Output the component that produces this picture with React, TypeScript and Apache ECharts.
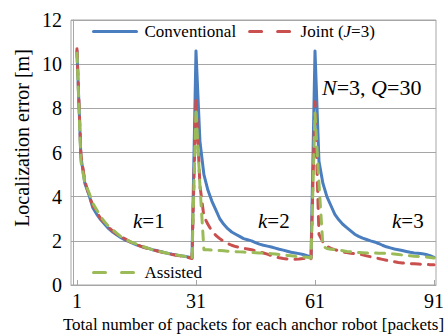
import React, { useEffect, useRef } from "react";
import * as echarts from "echarts";

// Localization error [m] for packets 1..91
const conventional = [
  10.6, 5.8, 4.6, 4.1, 3.5, 3.2, 2.95, 2.75, 2.55, 2.4, 2.27, 2.15, 2.05, 1.98, 1.9, 1.82, 1.76, 1.7, 1.66, 1.6, 1.56, 1.52, 1.47, 1.43, 1.39, 1.36, 1.33, 1.3, 1.27, 1.22,
  10.6, 6.5, 5.0, 4.3, 3.8, 3.4, 3.0, 2.75, 2.55, 2.4, 2.3, 2.2, 2.1, 2.05, 2.0, 1.92, 1.85, 1.8, 1.76, 1.72, 1.67, 1.62, 1.58, 1.53, 1.48, 1.45, 1.42, 1.38, 1.33, 1.25,
  10.6, 5.6, 4.6, 4.0, 3.6, 3.2, 2.95, 2.75, 2.6, 2.45, 2.3, 2.2, 2.12, 2.06, 2.0, 1.95, 1.88, 1.8, 1.73, 1.68, 1.63, 1.6, 1.56, 1.52, 1.48, 1.45, 1.44, 1.42, 1.38, 1.33, 1.25,
];
const joint = [
  10.7, 5.9, 4.7, 4.1, 3.6, 3.3, 3.0, 2.8, 2.6, 2.45, 2.3, 2.2, 2.1, 2.0, 1.9, 1.83, 1.76, 1.7, 1.65, 1.6, 1.55, 1.5, 1.46, 1.42, 1.38, 1.35, 1.32, 1.29, 1.25, 1.2,
  8.5, 4.5, 3.1, 2.75, 2.45, 2.25, 2.1, 1.98, 1.88, 1.8, 1.74, 1.7, 1.66, 1.63, 1.6, 1.55, 1.5, 1.45, 1.4, 1.33, 1.27, 1.23, 1.2, 1.18, 1.17, 1.17, 1.18, 1.2, 1.2, 1.15,
  8.3, 2.3, 1.95, 1.75, 1.66, 1.6, 1.55, 1.5, 1.47, 1.44, 1.42, 1.4, 1.37, 1.32, 1.28, 1.24, 1.2, 1.16, 1.12, 1.08, 1.05, 1.02, 1.0, 0.98, 0.97, 0.96, 0.95, 0.94, 0.93, 0.92, 0.92,
];
const assisted = [
  10.5, 5.6, 4.6, 4.2, 3.7, 3.4, 3.1, 2.85, 2.65, 2.5, 2.35, 2.2, 2.1, 2.0, 1.92, 1.85, 1.78, 1.72, 1.66, 1.6, 1.55, 1.51, 1.47, 1.43, 1.4, 1.36, 1.33, 1.3, 1.26, 1.2,
  8.0, 4.5, 1.6, 1.6, 1.58, 1.57, 1.56, 1.55, 1.53, 1.52, 1.51, 1.5, 1.49, 1.48, 1.47, 1.46, 1.45, 1.44, 1.43, 1.42, 1.4, 1.38, 1.36, 1.34, 1.32, 1.3, 1.28, 1.27, 1.26, 1.22,
  7.8, 4.6, 1.75, 1.65, 1.62, 1.6, 1.58, 1.55, 1.52, 1.5, 1.48, 1.47, 1.46, 1.45, 1.45, 1.45, 1.44, 1.44, 1.43, 1.42, 1.4, 1.38, 1.36, 1.34, 1.32, 1.3, 1.29, 1.28, 1.27, 1.25, 1.22,
];
const xTickValues = [1, 31, 61, 91];
const yTicks = [0, 2, 4, 6, 8, 10, 12];
const seriesNames = ["Conventional", "Joint (J=3)", "Assisted"];
const kLabels = ["k=1", "k=2", "k=3"];

const FONT = "Liberation Serif";
const BLUE = "#4a7ebf";
const RED = "#c9504e";
const GREEN = "#9bbb59";

const toPairs = (vals: number[]) => vals.map((v, i) => [i + 1, v]);

const CSS = `#chart-box svg text, #chart-box svg tspan { font-family: "Liberation Serif", "Times New Roman", serif !important; }`;

export default function App() {
  const ref = useRef<HTMLDivElement>(null);
  useEffect(() => {
    if (!ref.current) return;
    const chart = echarts.init(ref.current, undefined, { renderer: "svg" });
    const legendText = {
      fontFamily: FONT,
      fontSize: 17,
      color: "#000",
      padding: [0, 0, 0, 3],
      rich: { i: { fontFamily: FONT, fontSize: 17, fontStyle: "italic", color: "#000" } },
    };
    const legendFmt = (name: string) =>
      name === "Joint (J=3)" ? "Joint ({i|J}=3)" : name;
    const legendDash = { type: [12, 16], width: 3, cap: "round" };
    const hidden = { opacity: 0 };
    chart.setOption({
      animation: false,
      backgroundColor: "#fff",
      textStyle: { fontFamily: FONT },
      grid: {
        left: 71,
        right: 11,
        top: 20,
        bottom: 49,
        show: true,
        borderColor: "#a6a6a6",
        borderWidth: 1,
        containLabel: false,
        outerBoundsMode: "none",
      },
      legend: [
        {
          left: 92,
          top: 23,
          padding: 0,
          itemWidth: 43,
          itemHeight: 10,
          itemGap: 12,
          selectedMode: false,
          formatter: legendFmt,
          textStyle: legendText,
          itemStyle: hidden,
          data: [
            { name: seriesNames[0], lineStyle: { width: 3 }, itemStyle: hidden },
            { name: seriesNames[1], lineStyle: legendDash, itemStyle: hidden },
          ],
        },
        {
          left: 92,
          top: 264,
          padding: 0,
          itemWidth: 43,
          itemHeight: 10,
          selectedMode: false,
          textStyle: legendText,
          itemStyle: hidden,
          data: [{ name: seriesNames[2], lineStyle: legendDash, itemStyle: hidden }],
        },
      ],
      xAxis: {
        type: "value",
        min: -0.5,
        max: 91.5,
        name: "Total number of packets for each anchor robot [packets]",
        nameLocation: "middle",
        nameGap: 28,
        nameTextStyle: { fontFamily: FONT, fontSize: 17, color: "#000" },
        splitLine: { show: false },
        axisLine: { show: true, lineStyle: { color: "#a6a6a6", width: 1 } },
        axisTick: {
          show: true,
          customValues: xTickValues,
          inside: true,
          length: 5,
          lineStyle: { color: "#a6a6a6" },
        },
        axisLabel: {
          customValues: xTickValues,
          fontFamily: FONT,
          fontSize: 20,
          color: "#000",
          margin: 6,
        },
      },
      yAxis: {
        type: "value",
        min: yTicks[0],
        max: yTicks[yTicks.length - 1],
        interval: 2,
        axisLine: { show: true, lineStyle: { color: "#a6a6a6", width: 1 } },
        axisTick: { show: false },
        splitLine: { show: true, lineStyle: { color: "#a6a6a6", width: 1 } },
        axisLabel: { fontFamily: FONT, fontSize: 20, color: "#000", margin: 9 },
      },
      graphic: [
        {
          type: "text",
          x: 22,
          y: 138,
          rotation: Math.PI / 2,
          style: {
            text: "Localization error [m]",
            fontFamily: FONT,
            fontSize: 20,
            fill: "#000",
            align: "center",
            verticalAlign: "middle",
          },
        },
        {
          type: "text",
          x: 322,
          y: 87,
          style: {
            text: "{i|N}=3, {i|Q}=30",
            fontFamily: FONT,
            fontSize: 22,
            fill: "#000",
            verticalAlign: "middle",
            rich: { i: { fontFamily: FONT, fontSize: 22, fontStyle: "italic" } },
          },
        },
        ...kLabels.map((t, i) => ({
          type: "text",
          x: [133, 258, 392][i],
          y: 221,
          style: {
            text: "{i|k}" + t.slice(1),
            fontFamily: FONT,
            fontSize: 21,
            fill: "#000",
            verticalAlign: "middle",
            rich: { i: { fontFamily: FONT, fontSize: 21, fontStyle: "italic" } },
          },
        })),
      ],
      series: [
        {
          name: seriesNames[0],
          type: "line",
          data: toPairs(conventional),
          symbol: "none",
          color: BLUE,
          lineStyle: { color: BLUE, width: 3, cap: "round", join: "round" },
        },
        {
          name: seriesNames[1],
          type: "line",
          data: toPairs(joint),
          symbol: "none",
          color: RED,
          lineStyle: { color: RED, width: 3, type: [9, 8], cap: "round", join: "round" },
        },
        {
          name: seriesNames[2],
          type: "line",
          data: toPairs(assisted),
          symbol: "none",
          color: GREEN,
          lineStyle: { color: GREEN, width: 3, type: [9, 8], cap: "round", join: "round" },
        },
      ],
    });
    return () => chart.dispose();
  }, []);
  return (
    <>
      <style>{CSS}</style>
      <div
        id="chart-box"
        ref={ref}
        style={{ position: "fixed", left: 0, top: 0, width: 447, height: 334, background: "#fff" }}
      />
    </>
  );
}
